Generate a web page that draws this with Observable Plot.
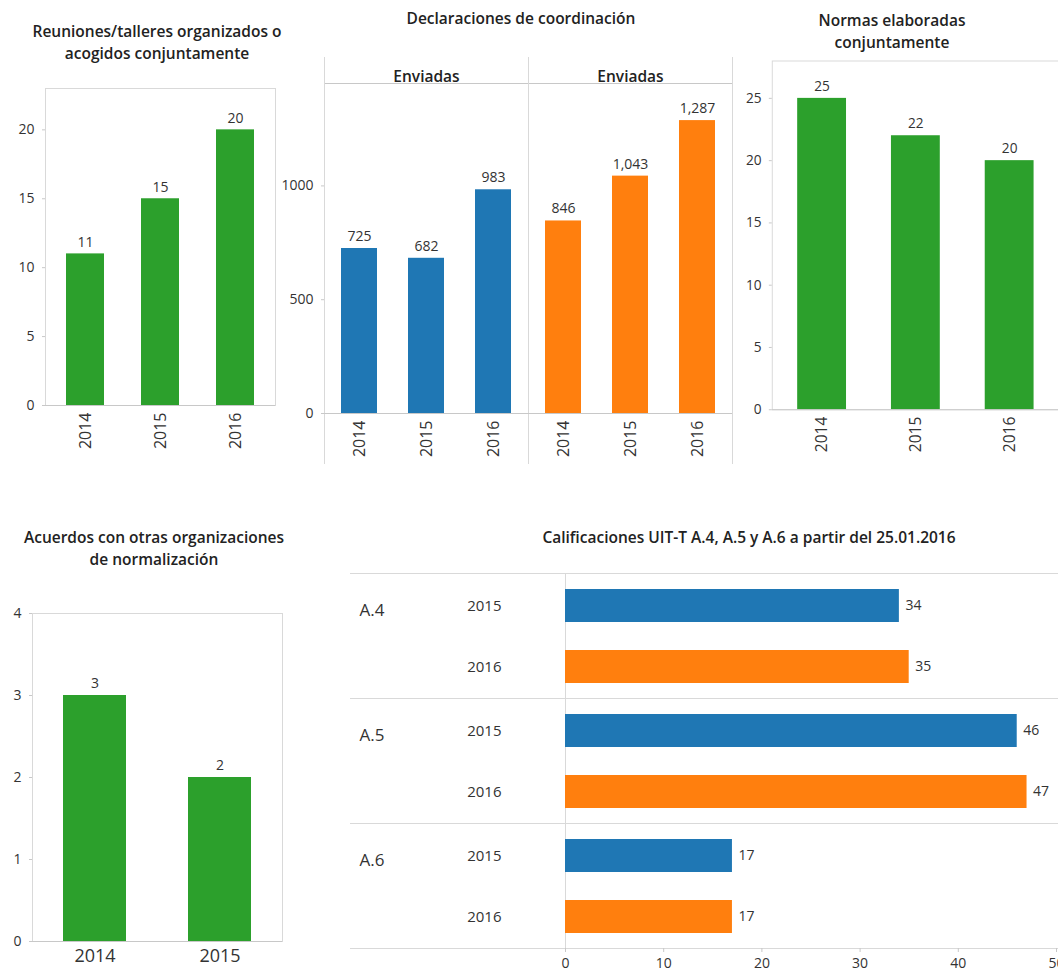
<!DOCTYPE html>
<html><head><meta charset="utf-8">
<script src="https://cdn.jsdelivr.net/npm/d3@7"></script>
<script src="https://cdn.jsdelivr.net/npm/@observablehq/plot@0.6"></script>
<style>
body{margin:0;background:#fff;font-family:"Open Sans",sans-serif;}
#root{position:relative;width:1058px;height:978px;overflow:hidden;background:#fff;}
.title{position:absolute;font-weight:600;font-size:15.5px;color:#222;text-align:center;line-height:22px;white-space:nowrap;}
.panel{position:absolute;}
.panel svg{overflow:visible;}
</style></head><body><div id="root"></div>
<script>
// ---------- data ----------
const years3 = ["2014", "2015", "2016"];
const reunionesValues = [11, 15, 20];

const declFacetLabels = ["Enviadas", "Enviadas"];
const declBlueValues = [725, 682, 983];
const declOrangeValues = [846, 1043, 1287];

const normasValues = [25, 22, 20];

const acuerdosYears = ["2014", "2015"];
const acuerdosValues = [3, 2];

const califGroups = ["A.4", "A.5", "A.6"];
const califYears = ["2015", "2016"];
const calif2015 = [34, 46, 17];
const calif2016 = [35, 47, 17];

const titles = {
  reuniones: ["Reuniones/talleres organizados o", "acogidos conjuntamente"],
  decl: ["Declaraciones de coordinación"],
  normas: ["Normas elaboradas", "conjuntamente"],
  acuerdos: ["Acuerdos con otras organizaciones", "de normalización"],
  calif: ["Calificaciones UIT-T A.4, A.5 y A.6 a partir del 25.01.2016"]
};

// ---------- styling ----------
const GREEN = "#2ca02c", BLUE = "#1f77b4", ORANGE = "#ff7f0e";
const GRID = "#d9d9d9", AXIS = "#c8c8c8", TXT = "#333";
const baseStyle = {fontFamily: "'Open Sans', sans-serif", fontSize: "14px", fontWeight: 500, color: TXT, background: "transparent", overflow: "visible"};

const root = document.getElementById("root");
function place(node, left, top) {
  const d = document.createElement("div");
  d.className = "panel";
  d.style.left = left + "px"; d.style.top = top + "px";
  d.appendChild(node);
  root.appendChild(d);
}
function addTitle(lines, cx, top) {
  const d = document.createElement("div");
  d.className = "title";
  d.style.left = (cx - 250) + "px"; d.style.width = "500px"; d.style.top = top + "px";
  d.innerHTML = lines.join("<br>");
  root.appendChild(d);
}
const yAxis = (ticks) => Plot.axisY({ticks, tickFormat: d3.format("d"), tickSize: 3, stroke: AXIS, fill: TXT, tickPadding: 8, fontSize: 14, label: null});
const xAxisRot = () => Plot.axisX({tickRotate: -90, tickSize: 0, tickPadding: 7, fontSize: 16, fill: TXT, label: null});

// ---------- 1. Reuniones ----------
const reunionesData = years3.map((y, i) => ({year: y, value: reunionesValues[i]}));
place(Plot.plot({
  width: 290, height: 385,
  marginLeft: 45, marginRight: 15, marginTop: 8, marginBottom: 60,
  style: baseStyle,
  x: {domain: years3, paddingInner: 0.49, paddingOuter: 0.27},
  y: {domain: [0, 23]},
  marks: [
    Plot.frame({stroke: GRID}),
    Plot.barY(reunionesData, {x: "year", y: "value", fill: GREEN}),
    Plot.ruleY([0], {stroke: AXIS}),
    Plot.text(reunionesData, {x: "year", y: "value", text: d => String(d.value), dy: -11, fontSize: 14, fill: TXT}),
    yAxis([0, 5, 10, 15, 20]),
    xAxisRot()
  ]
}), 0, 80);
addTitle(titles.reuniones, 157, 20);

// ---------- 2. Declaraciones de coordinación ----------
const declData = [
  ...years3.map((y, i) => ({facet: 0, year: y, value: declBlueValues[i]})),
  ...years3.map((y, i) => ({facet: 1, year: y, value: declOrangeValues[i]}))
];
const declFacets = declFacetLabels.map((l, i) => ({facet: i, label: l}));
place(Plot.plot({
  width: 464, height: 425,
  marginLeft: 53, marginRight: 2, marginTop: 43, marginBottom: 52,
  style: baseStyle,
  fx: {domain: [0, 1], padding: 0, axis: null},
  x: {domain: years3, paddingInner: 0.47, paddingOuter: 0.255},
  y: {domain: [0, 1450]},
  color: {type: "ordinal", domain: [0, 1], range: [BLUE, ORANGE]},
  marks: [
    Plot.frame({anchor: "top", stroke: AXIS}),
    Plot.frame({anchor: "left", insetTop: -26, insetBottom: -50, stroke: GRID}),
    Plot.frame({anchor: "right", insetTop: -26, insetBottom: -50, stroke: GRID}),
    Plot.barY(declData, {fx: "facet", x: "year", y: "value", fill: "facet"}),
    Plot.ruleY([0], {stroke: AXIS}),
    Plot.text(declData, {fx: "facet", x: "year", y: "value", text: d => d3.format(",")(d.value), dy: -12, fontSize: 14, fill: TXT}),
    Plot.text(declFacets, {fx: "facet", text: "label", frameAnchor: "top", dy: -13, fontSize: 15.5, fontWeight: 600, fill: "#222"}),
    yAxis([0, 500, 1000]),
    xAxisRot()
  ]
}), 270, 40);
addTitle(titles.decl, 521, 7);

// ---------- 3. Normas elaboradas conjuntamente ----------
const normasData = years3.map((y, i) => ({year: y, value: normasValues[i]}));
place(Plot.plot({
  width: 346, height: 430,
  marginLeft: 53, marginRight: 0, marginTop: 21, marginBottom: 52,
  style: baseStyle,
  x: {domain: years3, paddingInner: 0.48, paddingOuter: 0.26},
  y: {domain: [0, 28]},
  marks: [
    Plot.frame({stroke: GRID}),
    Plot.barY(normasData, {x: "year", y: "value", fill: GREEN}),
    Plot.ruleY([0], {stroke: AXIS}),
    Plot.text(normasData, {x: "year", y: "value", text: d => String(d.value), dy: -12, fontSize: 14, fill: TXT}),
    yAxis([0, 5, 10, 15, 20, 25]),
    xAxisRot()
  ]
}), 720, 40);
addTitle(titles.normas, 892, 9);

// ---------- 4. Acuerdos ----------
const acuerdosData = acuerdosYears.map((y, i) => ({year: y, value: acuerdosValues[i]}));
place(Plot.plot({
  width: 300, height: 388,
  marginLeft: 32, marginRight: 18, marginTop: 23, marginBottom: 37,
  style: baseStyle,
  x: {domain: acuerdosYears, paddingInner: 0.5, paddingOuter: 0.25},
  y: {domain: [0, 4]},
  marks: [
    Plot.frame({stroke: GRID}),
    Plot.barY(acuerdosData, {x: "year", y: "value", fill: GREEN}),
    Plot.ruleY([0], {stroke: AXIS}),
    Plot.text(acuerdosData, {x: "year", y: "value", text: d => String(d.value), dy: -12, fontSize: 14, fill: TXT}),
    yAxis([0, 1, 2, 3, 4]),
    Plot.axisX({tickSize: 0, tickPadding: 8, fontSize: 18, fill: TXT, label: null})
  ]
}), 0, 590);
addTitle(titles.acuerdos, 154, 526);

// ---------- 5. Calificaciones ----------
const califData = [];
califGroups.forEach((g, i) => {
  califData.push({group: g, year: califYears[0], value: calif2015[i]});
  califData.push({group: g, year: califYears[1], value: calif2016[i]});
});
place(Plot.plot({
  width: 731, height: 418,
  marginLeft: 238, marginRight: 2, marginTop: 12, marginBottom: 30,
  style: baseStyle,
  fy: {domain: califGroups, padding: 0, axis: null},
  y: {domain: califYears, paddingInner: 0.46, paddingOuter: 0.24},
  x: {domain: [0, 50]},
  color: {domain: califYears, range: [BLUE, ORANGE]},
  marks: [
    Plot.frame({anchor: "top", insetLeft: -215, insetRight: -2, stroke: GRID}),
    Plot.frame({anchor: "bottom", insetLeft: -215, insetRight: -2, stroke: GRID}),
    Plot.ruleX([0], {stroke: GRID}),
    Plot.barX(califData, {fy: "group", y: "year", x: "value", fill: "year"}),
    Plot.text(califData, {fy: "group", y: "year", x: "value", text: d => String(d.value), dx: 6, textAnchor: "start", fontSize: 14, fill: TXT}),
    Plot.text(califGroups, {fy: d => d, text: d => d, frameAnchor: "top-left", dx: -206, dy: 30, textAnchor: "start", fontSize: 17, fill: TXT}),
    Plot.axisY({tickSize: 0, tickPadding: 64, fontSize: 15, fill: TXT, label: null}),
    Plot.axisX({ticks: [0, 10, 20, 30, 40, 50], tickSize: 4, stroke: AXIS, fill: TXT, tickPadding: 6, fontSize: 14, label: null})
  ]
}), 327, 560);
addTitle(titles.calif, 749, 526);
</script>
</body></html>
